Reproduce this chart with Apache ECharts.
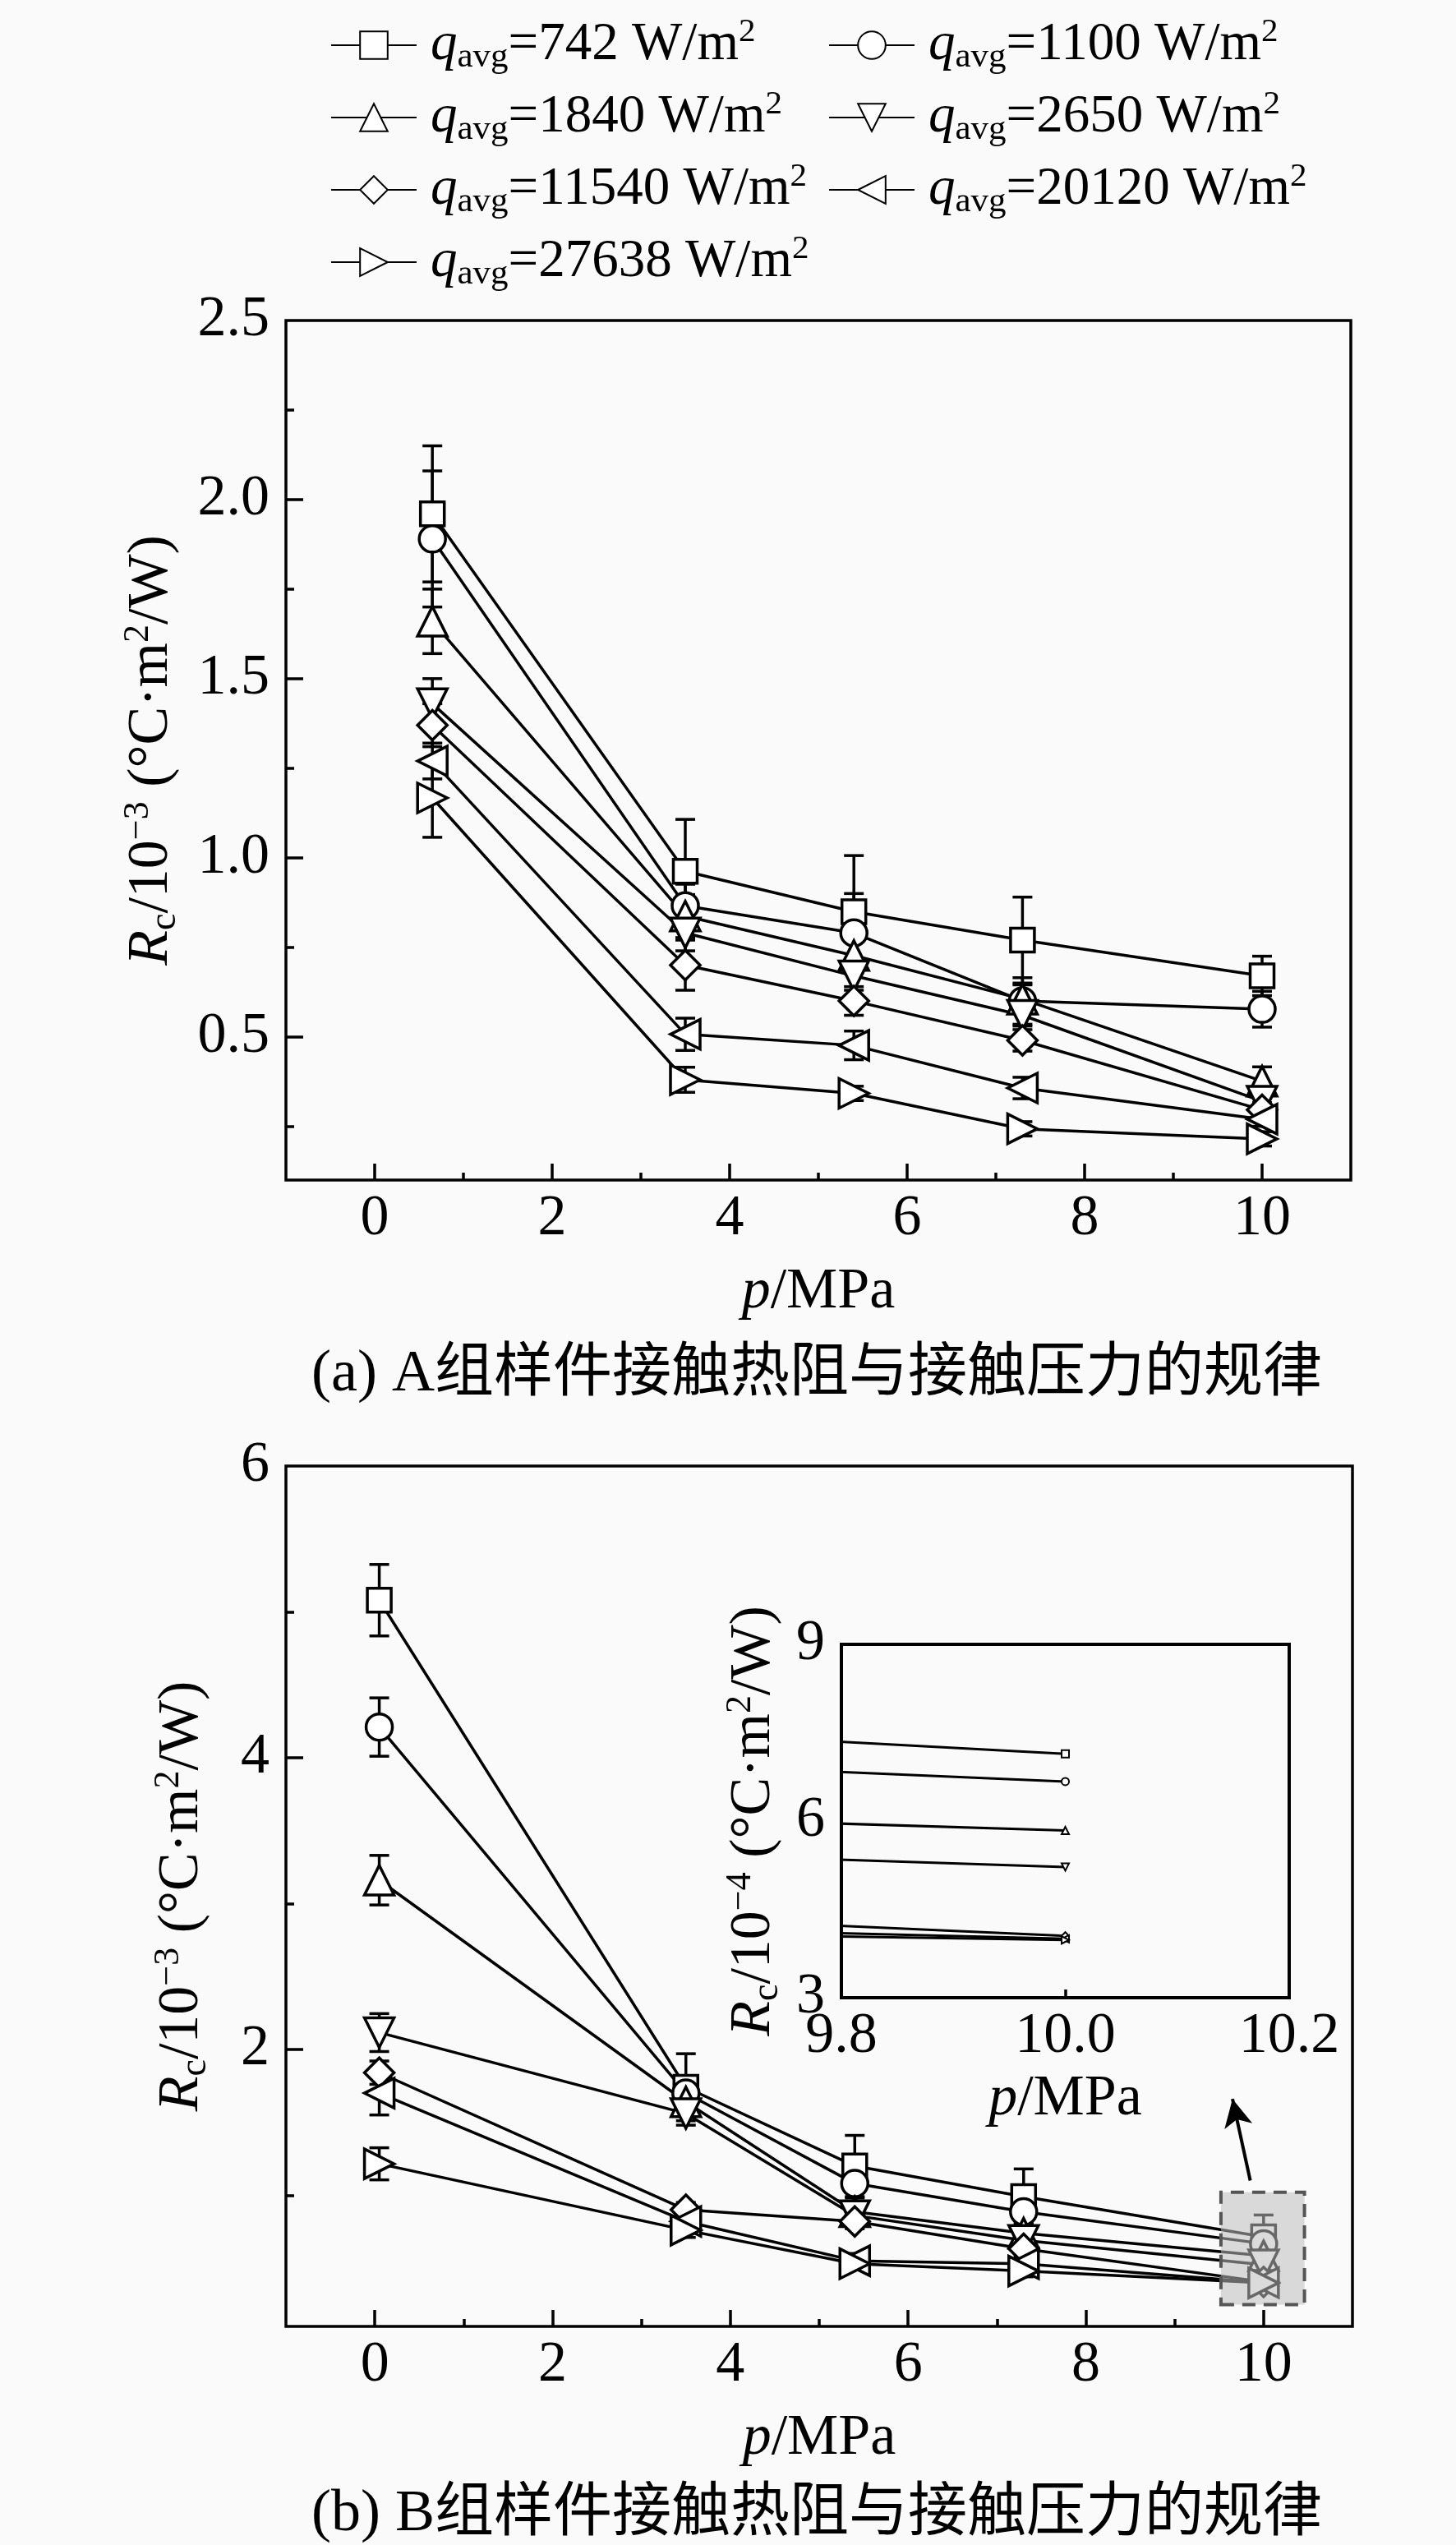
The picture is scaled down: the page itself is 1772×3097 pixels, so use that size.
<!DOCTYPE html>
<html>
<head>
<meta charset="utf-8">
<title>Rc vs p</title>
<script src="https://cdn.jsdelivr.net/npm/echarts@6/dist/echarts.min.js"></script>
<style>
html, body { margin: 0; padding: 0; background: #fafafa; }
#chart { width: 1772px; height: 3097px; }
</style>
</head>
<body>
<div id="chart"></div>
<script>
"use strict";

// heat flux of each curve (legend), marker per curve
var fluxes = ['742', '1100', '1840', '2650', '11540', '20120', '27638'];
var symbols = ['rect', 'circle', 'triangle', 'triangle', 'diamond', 'triangle', 'triangle'];
var symbolRot = [0, 0, 0, 180, 0, 90, -90];
var symbolSz = [29, 32, 36, 36, 36, 36, 36];

// (a) group A, Rc in 1e-3 C*m2/W
var pressA = [0.65, 3.5, 5.4, 7.3, 10];
var rcA = [
    [1.96, 0.962, 0.849, 0.770, 0.670],
    [1.89, 0.866, 0.790, 0.600, 0.577],
    [1.66, 0.837, 0.727, 0.605, 0.376],
    [1.43, 0.790, 0.670, 0.560, 0.320],
    [1.37, 0.700, 0.600, 0.490, 0.296],
    [1.27, 0.507, 0.476, 0.357, 0.270],
    [1.167, 0.380, 0.342, 0.243, 0.215]
];
var errA = [
    [0.19, 0.145, 0.157, 0.12, 0.055],
    [0.19, 0.06, 0.11, 0.065, 0.05],
    [0.09, 0.06, 0.05, 0.04, 0.04],
    [0.07, 0.05, 0.04, 0.03, 0.02],
    [0.06, 0.07, 0.04, 0.03, 0.02],
    [0.05, 0.045, 0.04, 0.03, 0.02],
    [0.11, 0.035, 0.02, 0.02, 0.02]
];

// (b) group B
var pressB = [0.05, 3.5, 5.4, 7.3, 10];
var rcB = [
    [5.08, 1.74, 1.20, 0.99, 0.714],
    [4.21, 1.70, 1.08, 0.886, 0.667],
    [3.16, 1.64, 0.886, 0.74, 0.584],
    [2.115, 1.56, 0.86, 0.69, 0.522],
    [1.84, 0.90, 0.82, 0.633, 0.405],
    [1.70, 0.82, 0.55, 0.53, 0.400],
    [1.215, 0.76, 0.53, 0.48, 0.398]
];
var errB = [
    [0.245, 0.23, 0.21, 0.19, 0.15],
    [0.20, 0.10, 0.10, 0.08, 0.08],
    [0.17, 0.10, 0.06, 0.05, 0.05],
    [0.13, 0.08, 0.05, 0.05, 0.05],
    [0.08, 0.05, 0.05, 0.05, 0.04],
    [0.15, 0.05, 0.05, 0.04, 0.03],
    [0.11, 0.05, 0.04, 0.04, 0.03]
];

// tick values
var xLabels = [0, 2, 4, 6, 8, 10];
var xMinor = [1, 3, 5, 7, 9];
var yLabelsA = [0.5, 1.0, 1.5, 2.0, 2.5];
var yMajorA = [0.5, 1.0, 1.5, 2.0];
var yMinorA = [0.25, 0.75, 1.25, 1.75, 2.25];
var yLabelsB = [2, 4, 6];
var yMajorB = [2, 4];
var yMinorB = [1, 3, 5];
var insetXLabels = [9.8, 10.0, 10.2];
var insetYLabels = [3, 6, 9];
var insetScale = 10; // inset is in 1e-4

// zoom box and arrow in (b), data coords
var zoomBox = [[9.52, 0.25], [10.46, 1.02]];
var arrowFrom = [9.85, 1.10];
var arrowTo = [9.65, 1.66];

var SERIF = "'Liberation Serif', 'Times New Roman', serif";
var FS = 70;
var LFS = 65; // legend text

var rich = {
    i: { fontFamily: SERIF, fontSize: FS, fontStyle: 'italic', lineHeight: 78, color: '#000' },
    t: { fontFamily: SERIF, fontSize: FS, lineHeight: 78, color: '#000' },
    sub: { fontFamily: SERIF, fontSize: 46, lineHeight: 34, verticalAlign: 'bottom', color: '#000' },
    sup: { fontFamily: SERIF, fontSize: 44, lineHeight: 60, verticalAlign: 'top', color: '#000' }
};
var legendRich = {
    q: { fontFamily: SERIF, fontSize: LFS, fontStyle: 'italic', lineHeight: 72, padding: [0, 0, 0, 12], color: '#000' },
    t: { fontFamily: SERIF, fontSize: LFS, lineHeight: 72, color: '#000' },
    sub: { fontFamily: SERIF, fontSize: 43, lineHeight: 32, verticalAlign: 'bottom', color: '#000' },
    sup: { fontFamily: SERIF, fontSize: 41, lineHeight: 56, verticalAlign: 'top', color: '#000' }
};

var yNameA = '{i|R}{sub|c}{t|/10}{sup|\u22123}{t| (\u00b0C\u00b7m}{sup|2}{t|/W)}';
var yNameIn = '{i|R}{sub|c}{t|/10}{sup|\u22124}{t| (\u00b0C\u00b7m}{sup|2}{t|/W)}';
var xName = '{i|p}{t|/MPa}';

var labelStyle = { fontFamily: SERIF, fontSize: FS, color: '#000' };
var tickLine = { color: '#000', width: 3.5 };

function mainX(grid, minor) {
    return {
        type: 'value', gridIndex: grid, min: -1, max: 11, position: 'bottom',
        axisLine: { show: false, onZero: false }, splitLine: { show: false },
        axisTick: { show: true, inside: true, length: minor ? 9 : 20, lineStyle: tickLine,
            customValues: minor ? xMinor : xLabels },
        axisLabel: minor ? { show: false } : Object.assign({ margin: 13, customValues: xLabels }, labelStyle),
        name: minor ? '' : xName, nameLocation: 'middle', nameGap: 98,
        nameTextStyle: { rich: rich }
    };
}

function mainY(grid, minor, lo, hi, labels, major, minors, fmt, gap) {
    return {
        type: 'value', gridIndex: grid, min: lo, max: hi, position: 'left',
        axisLine: { show: false, onZero: false }, splitLine: { show: false },
        axisTick: { show: true, inside: true, length: minor ? 10 : 21, lineStyle: tickLine,
            customValues: minor ? minors : major },
        axisLabel: minor ? { show: false } : Object.assign({ margin: 20, customValues: labels, formatter: fmt }, labelStyle),
        name: minor ? '' : yNameA, nameLocation: 'middle', nameGap: gap, nameRotate: 90,
        nameTextStyle: { rich: rich }
    };
}

function lineSeries(name, k, xs, vals, xi, yi, small) {
    return {
        type: 'line', name: name, xAxisIndex: xi, yAxisIndex: yi,
        data: xs.map(function (x, i) { return [x, vals[i]]; }),
        symbol: symbols[k], symbolRotate: symbolRot[k],
        symbolSize: small ? 9 : symbolSz[k],
        showAllSymbol: true, clip: true, z: 3,
        lineStyle: { color: '#000', width: small ? 3 : 3.5 },
        itemStyle: { color: '#fff', borderColor: '#000', borderWidth: small ? 2 : 3.5 },
        emphasis: { disabled: true }, animation: false
    };
}

function errorSeries(name, xs, vals, errs, xi, yi) {
    var data = [];
    vals.forEach(function (row, k) {
        row.forEach(function (v, i) {
            data.push([xs[i], v - errs[k][i], v + errs[k][i]]);
        });
    });
    return {
        type: 'custom', name: name, xAxisIndex: xi, yAxisIndex: yi, z: 2,
        data: data, silent: true, animation: false,
        renderItem: function (params, api) {
            var lo = api.coord([api.value(0), api.value(1)]);
            var hi = api.coord([api.value(0), api.value(2)]);
            var w = 12;
            var st = { stroke: '#000', lineWidth: 3.5 };
            return {
                type: 'group',
                children: [
                    { type: 'line', shape: { x1: lo[0], y1: lo[1], x2: hi[0], y2: hi[1] }, style: st },
                    { type: 'line', shape: { x1: hi[0] - w, y1: hi[1], x2: hi[0] + w, y2: hi[1] }, style: st },
                    { type: 'line', shape: { x1: lo[0] - w, y1: lo[1], x2: lo[0] + w, y2: lo[1] }, style: st }
                ]
            };
        }
    };
}

var series = [];
fluxes.forEach(function (f, k) {
    series.push(lineSeries(f, k, pressA, rcA[k], 0, 0, false));
});
fluxes.forEach(function (f, k) {
    series.push(lineSeries(f, k, pressB, rcB[k], 2, 2, false));
});
fluxes.forEach(function (f, k) {
    var scaled = rcB[k].map(function (v) { return v * insetScale; });
    series.push(lineSeries(f, k, pressB, scaled, 4, 4, true));
});
series.push(errorSeries('errA', pressA, rcA, errA, 0, 0));
series.push(errorSeries('errB', pressB, rcB, errB, 2, 2));

// zoom box + arrow
series.push({
    type: 'line', name: 'zoom', xAxisIndex: 2, yAxisIndex: 2, data: [], z: 6,
    markArea: {
        silent: true, z: 10,
        itemStyle: { color: 'rgba(190,190,190,0.55)', borderColor: '#555', borderWidth: 4, borderType: [16, 10] },
        data: [[{ coord: zoomBox[0] }, { coord: zoomBox[1] }]]
    },
    markLine: {
        silent: true, symbol: ['none', 'arrow'], symbolSize: [26, 34], z: 10,
        lineStyle: { color: '#000', width: 4, type: 'solid' },
        label: { show: false },
        data: [[{ coord: arrowFrom }, { coord: arrowTo }]]
    }
});

function legendFmt(name) {
    return '{q|q}{sub|avg}{t|=' + name + ' W/m}{sup|2}';
}
function legendCol(left, names) {
    return {
        orient: 'vertical', left: left, top: 19, itemWidth: 104, itemHeight: 42, itemGap: 16,
        data: names, formatter: legendFmt, textStyle: { rich: legendRich },
        padding: 0
    };
}

var gridStyle = { show: true, borderColor: '#000', borderWidth: 3.5, backgroundColor: 'transparent' };
var captionFont = "72px 'Liberation Serif', 'Noto Sans CJK SC'";

var option = {
    backgroundColor: '#fafafa',
    animation: false,
    legend: [
        legendCol(402, ['742', '1840', '11540', '27638']),
        legendCol(1008, ['1100', '2650', '20120'])
    ],
    grid: [
        Object.assign({ left: 348, top: 390, width: 1296, height: 1046 }, gridStyle),
        Object.assign({ left: 348, top: 1784, width: 1298, height: 1047 }, gridStyle),
        Object.assign({ left: 1024, top: 2001, width: 545, height: 430 }, gridStyle, { borderWidth: 4 })
    ],
    xAxis: [
        mainX(0, false), mainX(0, true), mainX(1, false), mainX(1, true),
        {
            type: 'value', gridIndex: 2, min: 9.8, max: 10.2, position: 'bottom',
            axisLine: { show: false, onZero: false }, splitLine: { show: false },
            axisTick: { show: true, inside: true, length: 10, lineStyle: tickLine, customValues: [10] },
            axisLabel: Object.assign({ margin: 13, customValues: insetXLabels,
                formatter: function (v) { return v.toFixed(1); } }, labelStyle),
            name: xName, nameLocation: 'middle', nameGap: 85, nameTextStyle: { rich: rich }
        }
    ],
    yAxis: [
        mainY(0, false, 0.1, 2.5, yLabelsA, yMajorA, yMinorA, function (v) { return v.toFixed(1); }, 124),
        mainY(0, true, 0.1, 2.5, yLabelsA, yMajorA, yMinorA, null, 0),
        mainY(1, false, 0.1, 6, yLabelsB, yMajorB, yMinorB, function (v) { return String(v); }, 87),
        mainY(1, true, 0.1, 6, yLabelsB, yMajorB, yMinorB, null, 0),
        {
            type: 'value', gridIndex: 2, min: 3, max: 9, position: 'left',
            axisLine: { show: false, onZero: false }, splitLine: { show: false }, axisTick: { show: false },
            axisLabel: Object.assign({ margin: 20, customValues: insetYLabels }, labelStyle),
            name: yNameIn, nameLocation: 'middle', nameGap: 67, nameRotate: 90,
            nameTextStyle: { rich: rich }
        }
    ],
    graphic: [
        {
            type: 'text', x: 994, y: 1673,
            style: { text: '(a) A组样件接触热阻与接触压力的规律', fill: '#000',
                font: captionFont, textAlign: 'center', textVerticalAlign: 'middle' }
        },
        {
            type: 'text', x: 994, y: 3060,
            style: { text: '(b) B组样件接触热阻与接触压力的规律', fill: '#000',
                font: captionFont, textAlign: 'center', textVerticalAlign: 'middle' }
        }
    ],
    series: series
};

var myChart = echarts.init(document.getElementById('chart'));
myChart.setOption(option);
</script>
</body>
</html>
